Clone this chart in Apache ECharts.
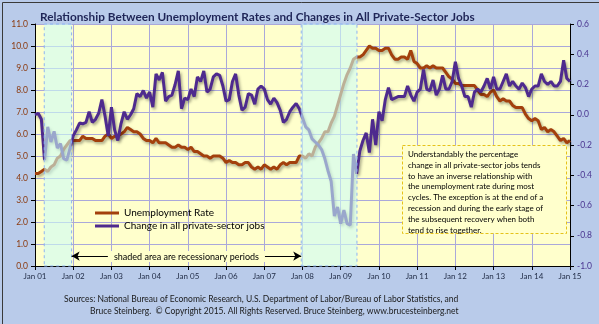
<!DOCTYPE html>
<html><head><meta charset="utf-8">
<script src="https://cdn.jsdelivr.net/npm/echarts@6/dist/echarts.min.js"></script>
<style>html,body{margin:0;padding:0;background:#B9CBEA}#c{width:599px;height:324px}</style>
</head><body><div id="c"></div>
<script>
// x-axis ticks (one per January; month index 0 = Jan 2001)
const xTickLabels = ['Jan 01','Jan 02','Jan 03','Jan 04','Jan 05','Jan 06','Jan 07','Jan 08','Jan 09','Jan 10','Jan 11','Jan 12','Jan 13','Jan 14','Jan 15'];

// Unemployment rate (%), monthly Jan 2001 .. Jan 2015 (left axis)
const unemploymentRate = [
 4.2,4.2,4.3,4.4,4.3,4.5,4.6,4.9,5.0,5.3,5.5,5.7,
 5.7,5.7,5.7,5.9,5.8,5.8,5.8,5.7,5.7,5.7,5.9,6.0,
 5.8,5.9,5.9,6.0,6.1,6.3,6.2,6.1,6.1,6.0,5.8,5.7,
 5.7,5.6,5.8,5.6,5.6,5.6,5.5,5.4,5.4,5.5,5.4,5.4,
 5.3,5.4,5.2,5.2,5.1,5.0,5.0,4.9,5.0,5.0,5.0,4.9,
 4.7,4.8,4.7,4.7,4.6,4.6,4.7,4.7,4.5,4.4,4.5,4.4,
 4.6,4.5,4.4,4.5,4.4,4.6,4.7,4.6,4.7,4.7,4.7,5.0,
 5.0,4.9,5.1,5.0,5.4,5.6,5.8,6.1,6.1,6.5,6.8,7.3,
 7.8,8.3,8.7,9.0,9.4,9.5,9.5,9.6,9.8,10.0,9.9,9.9,
 9.8,9.8,9.9,9.9,9.6,9.4,9.4,9.5,9.5,9.4,9.8,9.3,
 9.2,9.0,9.0,9.1,9.0,9.1,9.0,9.0,9.0,8.8,8.6,8.5,
 8.3,8.3,8.2,8.2,8.2,8.2,8.2,8.0,7.8,7.8,7.7,7.9,
 8.0,7.7,7.5,7.6,7.5,7.5,7.3,7.2,7.2,7.2,6.9,6.7,
 6.6,6.7,6.6,6.2,6.3,6.1,6.2,6.1,5.9,5.7,5.8,5.6,
 5.7
];

// Monthly % change in all private-sector jobs (right axis)
const privateJobsChange = [
 0.00,0.01,-0.03,-0.30,-0.08,-0.18,-0.11,-0.22,-0.19,-0.29,-0.30,-0.22,
 -0.14,-0.10,-0.055,-0.06,-0.05,0.02,-0.05,-0.03,0.01,0.10,-0.01,-0.14,
 0.05,-0.10,-0.17,-0.06,0.02,-0.03,0.00,0.04,0.14,0.12,0.16,0.11,
 0.15,0.05,0.27,0.23,0.28,0.09,0.12,0.13,0.20,0.29,0.04,0.11,
 0.10,0.17,0.12,0.25,0.22,0.29,0.15,0.17,0.25,0.27,0.26,0.19,
 0.09,0.10,0.22,0.27,0.13,0.03,0.05,0.14,0.13,0.07,0.17,0.19,
 0.17,0.10,0.07,0.11,0.08,0.03,-0.05,-0.03,0.02,0.05,0.075,0.04,
 -0.02,-0.08,-0.10,-0.16,-0.18,-0.20,-0.23,-0.29,-0.37,-0.44,-0.67,-0.61,
 -0.72,-0.63,-0.72,-0.73,-0.26,-0.39,-0.24,-0.17,-0.12,-0.25,-0.03,-0.20,
 0.02,-0.04,0.10,0.18,0.10,0.11,0.12,0.12,0.12,0.19,0.13,0.09,
 0.15,0.17,0.30,0.17,0.16,0.23,0.13,0.17,0.26,0.17,0.17,0.22,
 0.35,0.24,0.19,0.12,0.12,0.05,0.15,0.17,0.15,0.19,0.24,0.17,
 0.25,0.17,0.17,0.22,0.27,0.19,0.22,0.19,0.17,0.21,0.18,0.12,
 0.17,0.19,0.19,0.27,0.22,0.20,0.22,0.19,0.19,0.22,0.36,0.24,
 0.22
];

// Recession periods (month index, start/end)
const recessionStart = [2.9, 83.6];
const recessionEnd = [11.5, 101.1];

const seriesNames = ['Unemployment Rate','Change in all private-sector jobs'];
const arrowText = 'shaded area are recessionary periods';
const titleText = 'Relationship Between Unemployment Rates and Changes in All Private-Sector Jobs';
const noteLines = [
 'Understandably the percentage',
 'change in all private-sector jobs tends',
 'to have an inverse relationship with',
 'the unemployment rate during most',
 'cycles. The exception is at the end of a',
 'recession and during the early stage of',
 'the subsequent recovery when both',
 'tend to rise together.'
];
const sourceLines = [
 'Sources: National Bureau of Economic Research, U.S. Department of Labor/Bureau of Labor Statistics, and',
 'Bruce Steinberg.  \u00A9 Copyright 2015. All Rights Reserved. Bruce Steinberg, www.brucesteinberg.net'
];

const FONT = 'Lato, "Open Sans", sans-serif';
const fmt1 = v => (Math.abs(v) < 1e-9 ? 0 : v).toFixed(1);
const chart = echarts.init(document.getElementById('c'));

const shadow = {shadowColor:'rgba(0,0,0,0.35)', shadowBlur:3, shadowOffsetX:1.5, shadowOffsetY:2};

chart.setOption({
  backgroundColor: '#B9CBEA',
  animation: false,
  textStyle: {fontFamily: FONT},
  title: {
    text: titleText, left: 35, top: 6,
    textStyle: {fontFamily: FONT, fontWeight: 'bold', fontSize: 11.8, color: '#1F2557'}
  },
  grid: {left: 35, right: 29, top: 24, bottom: 58, show: true, backgroundColor: '#FFFFCC', borderWidth: 0},
  legend: {
    data: seriesNames, orient: 'vertical', left: 90, top: 203, itemGap: 3,
    icon: 'rect', itemWidth: 24, itemHeight: 3,
    textStyle: {fontFamily: FONT, fontSize: 10, color: '#000'}
  },
  xAxis: {
    type: 'value', min: 0, max: 168, interval: 12,
    axisLine: {show: true, lineStyle: {color: '#000', width: 1}},
    axisTick: {show: true, length: 4, lineStyle: {color: '#000'}},
    axisLabel: {formatter: v => xTickLabels[Math.round(v / 12)], fontSize: 8, color: '#1F2A44', margin: 6},
    splitLine: {show: true, lineStyle: {color: '#AAA8DA', width: 1}}
  },
  yAxis: [{
    type: 'value', position: 'left', min: 0, max: 11, interval: 1,
    axisLine: {show: true, lineStyle: {color: '#000'}},
    axisTick: {show: true, length: 4, lineStyle: {color: '#000'}},
    axisLabel: {formatter: fmt1, fontSize: 8.5, color: '#8B3A0F', margin: 7},
    splitLine: {show: true, lineStyle: {color: '#AAA8DA', width: 1}}
  }, {
    type: 'value', position: 'right', min: -1.0, max: 0.6, interval: 0.2,
    axisLine: {show: true, lineStyle: {color: '#000'}},
    axisTick: {show: true, length: 4, lineStyle: {color: '#000'}},
    axisLabel: {formatter: fmt1, fontSize: 8.5, color: '#4A3590', margin: 7},
    splitLine: {show: false}
  }],
  series: [{
    name: seriesNames[0], type: 'line', yAxisIndex: 0, showSymbol: false, z: 2,
    data: unemploymentRate.map((v, i) => [i, v]),
    itemStyle: {color: '#A3400C'},
    lineStyle: Object.assign({color: '#A3400C', width: 3}, shadow)
  }, {
    name: seriesNames[1], type: 'line', yAxisIndex: 1, showSymbol: false, z: 3,
    data: privateJobsChange.map((v, i) => [i, v]),
    itemStyle: {color: '#4E2A8E'},
    lineStyle: Object.assign({color: '#4E2A8E', width: 3}, shadow)
  }, {
    name: 'recessions', type: 'line', yAxisIndex: 0, z: 5, data: [],
    markArea: {
      silent: true, z: 10,
      itemStyle: {color: 'rgba(205,252,245,0.6)', borderColor: '#8DB2F2', borderWidth: 1, borderType: [3, 3]},
      data: recessionStart.map((s, k) => [{xAxis: s}, {xAxis: recessionEnd[k]}])
    },
    markLine: {
      silent: true, symbol: ['arrow', 'arrow'], symbolSize: [7, 8], z: 10,
      lineStyle: {color: '#000', width: 1, type: 'solid'},
      label: {show: true, position: 'middle', formatter: arrowText, color: '#000', fontSize: 9,
        backgroundColor: '#FFFFCC', padding: [1, 6], distance: -6},
      data: [[{coord: [recessionEnd[0], 0.45]}, {coord: [recessionStart[1], 0.45]}]]
    }
  }],
  graphic: [{
    type: 'rect', left: 402, top: 145, z: 20,
    shape: {x: 0, y: 0, width: 164, height: 88},
    style: {fill: '#FFFFCC', stroke: '#E5C21A', lineWidth: 1, lineDash: [3, 2]}
  }, {
    type: 'text', left: 408, top: 149, z: 21,
    style: {text: noteLines.join('\n'), font: '8px ' + FONT, fill: '#000', lineHeight: 10.8}
  }, {
    type: 'text', left: 64, top: 295, z: 20,
    style: {text: sourceLines[0], font: '8.5px ' + FONT, fill: '#1A1A1A'}
  }, {
    type: 'text', left: 90, top: 307, z: 20,
    style: {text: sourceLines[1], font: '8.5px ' + FONT, fill: '#1A1A1A'}
  }, {
    type: 'rect', left: 0, top: 0, z: 30, silent: true,
    shape: {x: 0, y: 0, width: 598, height: 323},
    style: {fill: 'none', stroke: '#3A3A3A', lineWidth: 1}
  }]
});
</script></body></html>
